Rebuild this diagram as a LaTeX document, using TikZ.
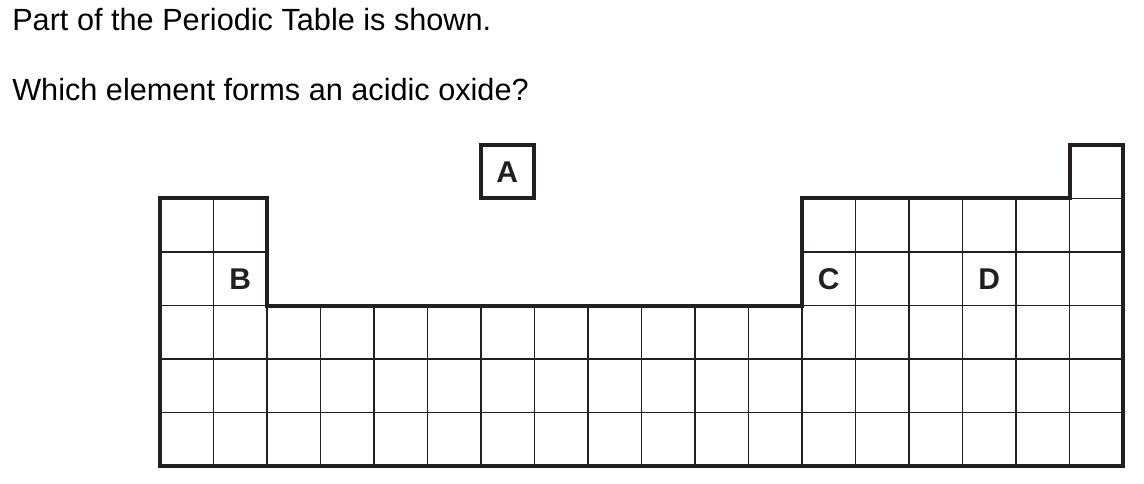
\documentclass[tikz,border=0pt]{standalone}
\usepackage{fontspec}
\setmainfont{Liberation Sans}
\usepackage{tikz}
\definecolor{ink}{HTML}{231F20}

\begin{document}
\begin{tikzpicture}[x=0.75pt, y=-0.75pt,
  cell/.style={draw=ink, line width=1pt},
  outline/.style={draw=ink, line width=3pt, line join=miter},
  letter/.style={font=\fontsize{22.5}{22.5}\selectfont\bfseries, text=ink, inner sep=0pt},
  question/.style={font=\fontsize{23}{28}\selectfont, anchor=base west, inner sep=0pt}
]
\useasboundingbox (0,0) rectangle (1144,484);

%% ---- Question text ----
\node[question] (title) at (12,31) {Part of the Periodic Table is shown.};
\node[question] (ask) at (12,101) {Which element forms an acidic oxide?};

%% ---- Cell lines ----
% vertical
\foreach \i/\t in {1/198.5, 2/305.5, 3/305.5, 4/305.5, 5/305.5, 6/305.5, 7/305.5,
                   8/305.5, 9/305.5, 10/305.5, 11/305.5, 12/305.5, 13/198.5,
                   14/198.5, 15/198.5, 16/198.5, 17/145}
  \draw[cell] ({160+\i*53.5},\t) -- ({160+\i*53.5},466);
% horizontal
\draw[cell] (1069.5,198.5) -- (1123,198.5);
\draw[cell] (160,252) -- (267,252);
\draw[cell] (802,252) -- (1123,252);
\foreach \j in {3,4,5}
  \draw[cell] (160,{145+\j*53.5}) -- (1123,{145+\j*53.5});

%% Outline
\draw[outline] (160,198.5) -- (267,198.5) -- (267,305.5) -- (802,305.5)
  -- (802,198.5) -- (1069.5,198.5) -- (1069.5,145) -- (1123,145)
  -- (1123,466) -- (160,466) -- cycle;

%% ---- Letters ----
\node[letter, draw=ink, line width=3pt, minimum size=40.1pt] (A) at (507.25,171.75) {A};
\node[letter] (B) at (240.25,278.75) {B};
\node[letter] (C) at (828.75,278.75) {C};
\node[letter] (D) at (989.25,278.75) {D};

\end{tikzpicture}
\end{document}
